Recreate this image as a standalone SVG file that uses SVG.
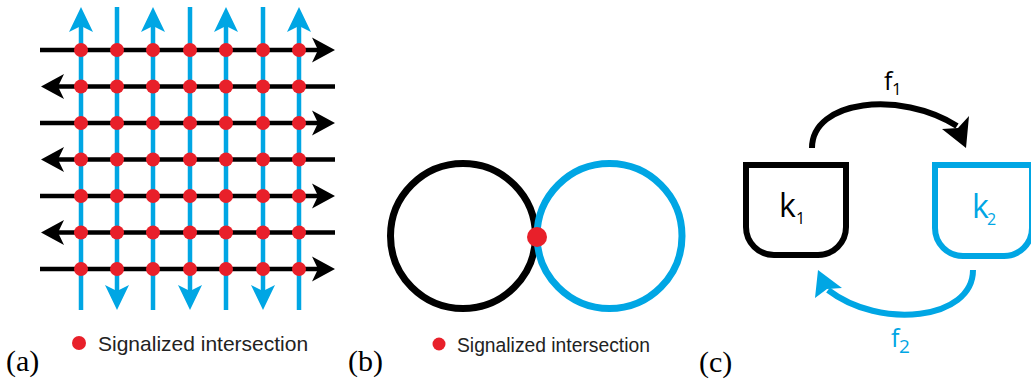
<svg xmlns="http://www.w3.org/2000/svg" width="1031" height="387" viewBox="0 0 1031 387">
<style>
.bl{stroke:#00a6e4;stroke-width:4.5;fill:none}
.bk{stroke:#000;stroke-width:4.5;fill:none}
.dot{fill:#e8202a}
.leg{font-family:"Liberation Sans",Arial,sans-serif;fill:#222}
.lab{font-family:"Liberation Serif","Times New Roman",serif;font-size:30px;fill:#000}
.hum{font-family:"Open Sans","Noto Sans",sans-serif}
</style>
<defs>
<marker id="ak" markerUnits="userSpaceOnUse" viewBox="-10 -15 30 30" markerWidth="30" markerHeight="30" refX="0" refY="0" orient="auto" overflow="visible">
<path d="M17,0 L-6,-12.5 L0,0 L-6,12.5 Z" fill="#000"/>
</marker>
<marker id="ab" markerUnits="userSpaceOnUse" viewBox="-10 -15 30 30" markerWidth="30" markerHeight="30" refX="0" refY="0" orient="auto" overflow="visible">
<path d="M19,0 L-6,-12 L0,0 L-6,12 Z" fill="#00a6e4"/>
</marker>
</defs>

<g id="panel-a">
<g id="streets-vertical">
<line class="bl" x1="81" y1="310" x2="81" y2="26" marker-end="url(#ab)"/>
<line class="bl" x1="117" y1="7" x2="117" y2="291" marker-end="url(#ab)"/>
<line class="bl" x1="153" y1="310" x2="153" y2="26" marker-end="url(#ab)"/>
<line class="bl" x1="190" y1="7" x2="190" y2="291" marker-end="url(#ab)"/>
<line class="bl" x1="226" y1="310" x2="226" y2="26" marker-end="url(#ab)"/>
<line class="bl" x1="263" y1="7" x2="263" y2="291" marker-end="url(#ab)"/>
<line class="bl" x1="299" y1="310" x2="299" y2="26" marker-end="url(#ab)"/>
</g>
<g id="streets-horizontal">
<line class="bk" x1="40" y1="50" x2="318" y2="50" marker-end="url(#ak)"/>
<line class="bk" x1="335" y1="86.5" x2="58" y2="86.5" marker-end="url(#ak)"/>
<line class="bk" x1="40" y1="123" x2="318" y2="123" marker-end="url(#ak)"/>
<line class="bk" x1="335" y1="159.5" x2="58" y2="159.5" marker-end="url(#ak)"/>
<line class="bk" x1="40" y1="196" x2="318" y2="196" marker-end="url(#ak)"/>
<line class="bk" x1="335" y1="232.5" x2="58" y2="232.5" marker-end="url(#ak)"/>
<line class="bk" x1="40" y1="269" x2="318" y2="269" marker-end="url(#ak)"/>
</g>
<g id="intersections">
<g class="dot">
<circle cx="81" cy="50" r="7"/><circle cx="117" cy="50" r="7"/><circle cx="153" cy="50" r="7"/><circle cx="190" cy="50" r="7"/><circle cx="226" cy="50" r="7"/><circle cx="263" cy="50" r="7"/><circle cx="299" cy="50" r="7"/>
<circle cx="81" cy="86.5" r="7"/><circle cx="117" cy="86.5" r="7"/><circle cx="153" cy="86.5" r="7"/><circle cx="190" cy="86.5" r="7"/><circle cx="226" cy="86.5" r="7"/><circle cx="263" cy="86.5" r="7"/><circle cx="299" cy="86.5" r="7"/>
<circle cx="81" cy="123" r="7"/><circle cx="117" cy="123" r="7"/><circle cx="153" cy="123" r="7"/><circle cx="190" cy="123" r="7"/><circle cx="226" cy="123" r="7"/><circle cx="263" cy="123" r="7"/><circle cx="299" cy="123" r="7"/>
<circle cx="81" cy="159.5" r="7"/><circle cx="117" cy="159.5" r="7"/><circle cx="153" cy="159.5" r="7"/><circle cx="190" cy="159.5" r="7"/><circle cx="226" cy="159.5" r="7"/><circle cx="263" cy="159.5" r="7"/><circle cx="299" cy="159.5" r="7"/>
<circle cx="81" cy="196" r="7"/><circle cx="117" cy="196" r="7"/><circle cx="153" cy="196" r="7"/><circle cx="190" cy="196" r="7"/><circle cx="226" cy="196" r="7"/><circle cx="263" cy="196" r="7"/><circle cx="299" cy="196" r="7"/>
<circle cx="81" cy="232.5" r="7"/><circle cx="117" cy="232.5" r="7"/><circle cx="153" cy="232.5" r="7"/><circle cx="190" cy="232.5" r="7"/><circle cx="226" cy="232.5" r="7"/><circle cx="263" cy="232.5" r="7"/><circle cx="299" cy="232.5" r="7"/>
<circle cx="81" cy="269" r="7"/><circle cx="117" cy="269" r="7"/><circle cx="153" cy="269" r="7"/><circle cx="190" cy="269" r="7"/><circle cx="226" cy="269" r="7"/><circle cx="263" cy="269" r="7"/><circle cx="299" cy="269" r="7"/>
</g>
</g>
<g id="legend-a">
<circle class="dot" cx="79" cy="343" r="7"/>
<text class="leg" x="98" y="351" font-size="21">Signalized intersection</text>
</g>
<text class="lab" x="6" y="371">(a)</text>
</g>

<g id="panel-b">
<circle id="ring-black" cx="463" cy="236" r="72.5" fill="none" stroke="#000" stroke-width="7"/>
<circle id="ring-blue" cx="609.5" cy="236" r="72.5" fill="none" stroke="#00a6e4" stroke-width="7"/>
<circle id="shared-intersection" class="dot" cx="537" cy="237" r="10"/>
<g id="legend-b">
<circle class="dot" cx="439" cy="344" r="6.5"/>
<text class="leg" x="457" y="352" font-size="19.3">Signalized intersection</text>
</g>
<text class="lab" x="348" y="371">(b)</text>
</g>

<g id="panel-c">
<g id="node-k1">
<path d="M746,165 V227 A28,28 0 0 0 774,255 H818 A28,28 0 0 0 846,227 V165 Z" fill="none" stroke="#000" stroke-width="6"/>
<text class="hum" font-size="32" fill="#000"><tspan x="779" y="217">k</tspan><tspan x="796" y="224" font-size="16">1</tspan></text>
</g>
<g id="node-k2">
<path d="M935,165 V228 A28,28 0 0 0 963,256 H1004 A28,28 0 0 0 1032,228 V165 Z" fill="none" stroke="#00a6e4" stroke-width="6"/>
<text class="hum" font-size="32" fill="#00a6e4"><tspan x="972" y="218">k</tspan><tspan x="987" y="225" font-size="16">2</tspan></text>
</g>
<g id="connectors">
<path d="M812,148 C812,100 900,90 957,126" fill="none" stroke="#000" stroke-width="6"/>
<polygon points="966,148 969,116 958,128 942,129" fill="#000"/>
<text class="hum" font-size="25" fill="#000"><tspan x="884" y="90">f</tspan><tspan x="892" y="95" font-size="17">1</tspan></text>
<path d="M973,270 C973,320 880,330 828,290" fill="none" stroke="#00a6e4" stroke-width="6"/>
<polygon points="818,270 842,288 827,289 815,298" fill="#00a6e4"/>
<text class="hum" font-size="25" fill="#00a6e4"><tspan x="891" y="347">f</tspan><tspan x="899" y="353" font-size="19">2</tspan></text>
</g>
<text class="lab" x="699" y="372">(c)</text>
</g>
</svg>
